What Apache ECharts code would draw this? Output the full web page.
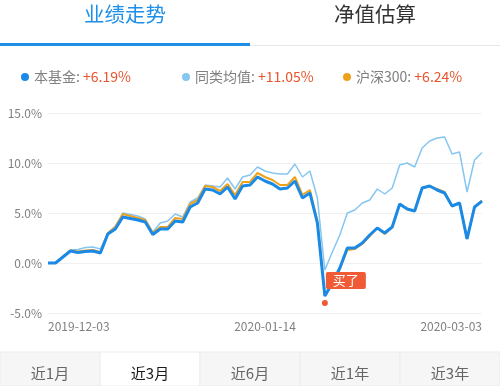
<!DOCTYPE html>
<html>
<head>
<meta charset="utf-8">
<script src="https://cdn.jsdelivr.net/npm/echarts@6/dist/echarts.min.js"></script>
<style>
html,body{margin:0;padding:0;background:#fff;}
#c{width:500px;height:386px;}
</style>
</head>
<body>
<div id="c"></div>
<script>
var dates = ['2019-12-03','2019-12-04','2019-12-05','2019-12-06','2019-12-09','2019-12-10','2019-12-11','2019-12-12','2019-12-13',
'2019-12-16','2019-12-17','2019-12-18','2019-12-19','2019-12-20','2019-12-23','2019-12-24','2019-12-25','2019-12-26','2019-12-27',
'2019-12-30','2019-12-31','2020-01-02','2020-01-03','2020-01-06','2020-01-07','2020-01-08','2020-01-09','2020-01-10','2020-01-13',
'2020-01-14','2020-01-15','2020-01-16','2020-01-17','2020-01-20','2020-01-21','2020-01-22','2020-01-23','2020-02-03','2020-02-04',
'2020-02-05','2020-02-06','2020-02-07','2020-02-10','2020-02-11','2020-02-12','2020-02-13','2020-02-14','2020-02-17','2020-02-18',
'2020-02-19','2020-02-20','2020-02-21','2020-02-24','2020-02-25','2020-02-26','2020-02-27','2020-02-28','2020-03-02','2020-03-03'];

var fund = [0,0,0.6,1.2,1.05,1.15,1.2,1.0,2.9,3.4,4.6,4.45,4.3,4.1,2.85,3.4,3.4,4.2,4.1,5.6,6.0,7.4,7.3,6.9,7.6,6.4,7.7,7.8,8.6,8.2,
7.9,7.4,7.5,8.2,6.5,7.0,4.0,-3.3,-2.0,-0.5,1.5,1.5,2.0,2.8,3.5,3.0,3.6,5.9,5.4,5.2,7.5,7.7,7.3,7.0,5.7,6.0,2.4,5.6,6.19];
var peers = [0,0,0.7,1.3,1.35,1.55,1.6,1.4,3.0,3.7,5.0,4.85,4.7,4.4,3.1,4.0,4.2,4.9,4.6,6.1,6.5,7.8,7.7,7.6,8.5,7.4,8.6,8.8,9.6,9.2,
9.0,8.9,8.9,9.9,8.6,9.2,6.5,-0.7,1.1,2.8,5.0,5.3,6.0,6.3,7.4,6.9,7.5,9.8,10.0,9.6,11.5,12.2,12.5,12.6,10.9,11.1,7.1,10.3,11.05];
var hs300 = [0,0,0.6,1.25,1.15,1.25,1.3,1.1,3.0,3.6,4.9,4.7,4.5,4.3,3.0,3.6,3.6,4.5,4.4,5.9,6.3,7.7,7.6,7.2,7.9,6.8,8.1,8.1,9.0,8.6,
8.3,7.8,7.8,8.6,6.8,7.3,4.2,-3.2,-2.1,-0.6,1.3,1.4,1.9,2.7,3.5,2.9,3.6,5.9,5.4,5.2,7.5,7.7,7.4,7.1,5.7,6.0,2.4,5.6,6.24];

var seriesNames = ['本基金','同类均值','沪深300'];
var totals = ['+6.19%','+11.05%','+6.24%'];
var yTicks = [-5,0,5,10,15];
var xLabelDates = ['2019-12-03','2020-01-14','2020-03-03'];
var topTabs = ['业绩走势','净值估算'];
var periodTabs = ['近1月','近3月','近6月','近1年','近3年'];
var buyIndex = 37;
var buyText = '买了';

var FONT = '"Noto Sans CJK SC", "Noto Sans", sans-serif';
var chart = echarts.init(document.getElementById('c'), null, {renderer:'canvas'});

function legendFor(i, left, color){
  return {
    data:[{name:seriesNames[i], icon:'circle', itemStyle:{color:color}}],
    left:left, top:65, itemWidth:8, itemHeight:8, itemGap:0,
    textStyle:{fontFamily:FONT, rich:{
      n:{color:'#808080', fontSize:14, fontFamily:FONT},
      v:{color:'#e8552d', fontSize:14, fontFamily:FONT}
    }},
    formatter:function(name){ return '{n|' + name + ': }{v|' + totals[i] + '}'; },
    selectedMode:false
  };
}

var graphics = [];
// top tabs
graphics.push({type:'text', left:84, top:4, style:{text:topTabs[0], fill:'#1e8fe8', font:'20.5px '+FONT}});
graphics.push({type:'text', left:334, top:4, style:{text:topTabs[1], fill:'#333', font:'20.5px '+FONT}});
graphics.push({type:'rect', shape:{x:250,y:45,width:250,height:1}, style:{fill:'#e6e6e6'}});
graphics.push({type:'rect', shape:{x:0,y:43,width:250,height:3}, style:{fill:'#1e8fe8'}});
// bottom tabs
periodTabs.forEach(function(t, i){
  var sel = i === 1;
  graphics.push({type:'rect', shape:{x:i*100, y:352, width:100, height:34},
    style:{fill: sel ? '#ffffff' : '#f6f6f6', stroke: '#ececec', lineWidth:1}});
  graphics.push({type:'text', x:i*100+50, y:373, style:{text:t, fill: sel ? '#1a1a1a' : '#666',
    font:'15px '+FONT, textAlign:'center', textVerticalAlign:'middle'}});
});

chart.setOption({
  animation:false,
  backgroundColor:'#fff',
  legend:[legendFor(0, 16, '#1a8ae6'), legendFor(1, 177, '#86c6f0'), legendFor(2, 338, '#eea21c')],
  grid:{left:48, right:18, top:113, bottom:73},
  xAxis:{
    type:'category', data:dates, boundaryGap:false,
    axisLine:{show:false}, axisTick:{show:false},
    axisLabel:{
      color:'#808080', fontSize:12, fontFamily:FONT, margin:7,
      interval:function(idx, val){ return xLabelDates.indexOf(val) >= 0; },
      alignMinLabel:'left', alignMaxLabel:'right', showMinLabel:true, showMaxLabel:true
    },
    splitLine:{show:false}
  },
  yAxis:{
    type:'value', min:yTicks[0], max:yTicks[yTicks.length-1], interval:5,
    axisLine:{show:false}, axisTick:{show:false},
    axisLabel:{color:'#808080', fontSize:12, fontFamily:FONT, margin:6,
      formatter:function(v){ return v.toFixed(1) + '%'; }},
    splitLine:{lineStyle:{color:'#f0f0f0', width:1}}
  },
  series:[
    {name:seriesNames[1], type:'line', data:peers, symbol:'none', z:2,
      lineStyle:{color:'#86c6f0', width:1.5}, itemStyle:{color:'#86c6f0'}},
    {name:seriesNames[2], type:'line', data:hs300, symbol:'none', z:3,
      lineStyle:{color:'#eea21c', width:2}, itemStyle:{color:'#eea21c'}},
    {name:seriesNames[0], type:'line', data:fund, symbol:'none', z:4,
      lineStyle:{color:'#1a8ae6', width:3}, itemStyle:{color:'#1a8ae6'},
      markPoint:{
        symbol:'circle', symbolSize:6, symbolOffset:[0,7],
        itemStyle:{color:'#ef5a35'},
        label:{show:true, formatter:buyText, position:[4,-28],
          backgroundColor:'#f05a35', color:'#fff', fontSize:13, fontFamily:FONT,
          padding:[2,7,2,7], borderRadius:2},
        data:[{coord:[buyIndex, fund[buyIndex]]}]
      }}
  ],
  graphic:graphics
});
</script>
</body>
</html>
